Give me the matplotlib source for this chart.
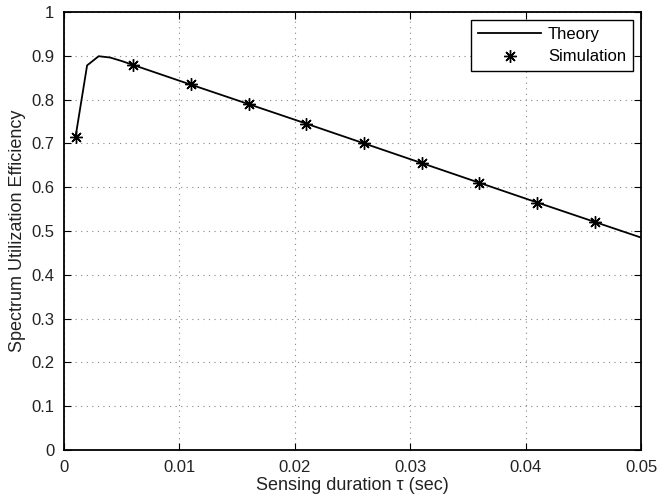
import numpy as np
import matplotlib.pyplot as plt

plt.rcParams['font.family'] = ['Liberation Sans', 'DejaVu Sans']

# theory curve
tau_theory = [0.001, 0.002, 0.003, 0.004, 0.005, 0.006, 0.01, 0.02, 0.03, 0.04, 0.05]
eff_theory = [0.715, 0.878, 0.899, 0.896, 0.888, 0.879, 0.843, 0.754, 0.664, 0.574, 0.485]

# simulation points
tau_sim = [0.001, 0.006, 0.011, 0.016, 0.021, 0.026, 0.031, 0.036, 0.041, 0.046]
eff_sim = [0.715, 0.878, 0.835, 0.790, 0.745, 0.700, 0.655, 0.610, 0.565, 0.520]

fig = plt.figure(figsize=(6.62, 4.99), dpi=100)
ax = fig.add_axes([0.0967, 0.0982, 0.8716, 0.8778])

ax.plot(tau_theory, eff_theory, 'k-', lw=1.3, label='Theory')
ax.plot(tau_sim, eff_sim, color='k', marker=(8, 2, 0), ms=9, mew=1.0,
        linestyle='none', label='Simulation')

ax.set_xlim(0, 0.05)
ax.set_ylim(0, 1)
ax.set_xticks(np.arange(0, 0.051, 0.01))
ax.set_xticklabels(['0', '0.01', '0.02', '0.03', '0.04', '0.05'])
ax.set_yticks(np.arange(0, 1.01, 0.1))
ax.set_yticklabels(['0', '0.1', '0.2', '0.3', '0.4', '0.5', '0.6', '0.7', '0.8', '0.9', '1'])
ax.tick_params(direction='in', top=True, right=True, labelsize=12, length=5,
               width=0.8, pad=7, labelcolor='#222222')
ax.grid(True, linestyle=(0, (1, 4)), color='#888888', lw=0.8)
for s in ax.spines.values():
    s.set_linewidth(1.3)

ax.set_xlabel('Sensing duration τ (sec)', fontsize=13, labelpad=2, color='#222222')
ax.set_ylabel('Spectrum Utilization Efficiency', fontsize=13, labelpad=4, color='#222222')

leg = ax.legend(loc='upper right', fontsize=12, fancybox=False, edgecolor='black',
                framealpha=1, borderaxespad=0.5, handlelength=3.8, borderpad=0.4,
                labelspacing=0.45, handletextpad=0.4)
leg.get_frame().set_linewidth(1.0)

fig.savefig('out.png', dpi=100)
